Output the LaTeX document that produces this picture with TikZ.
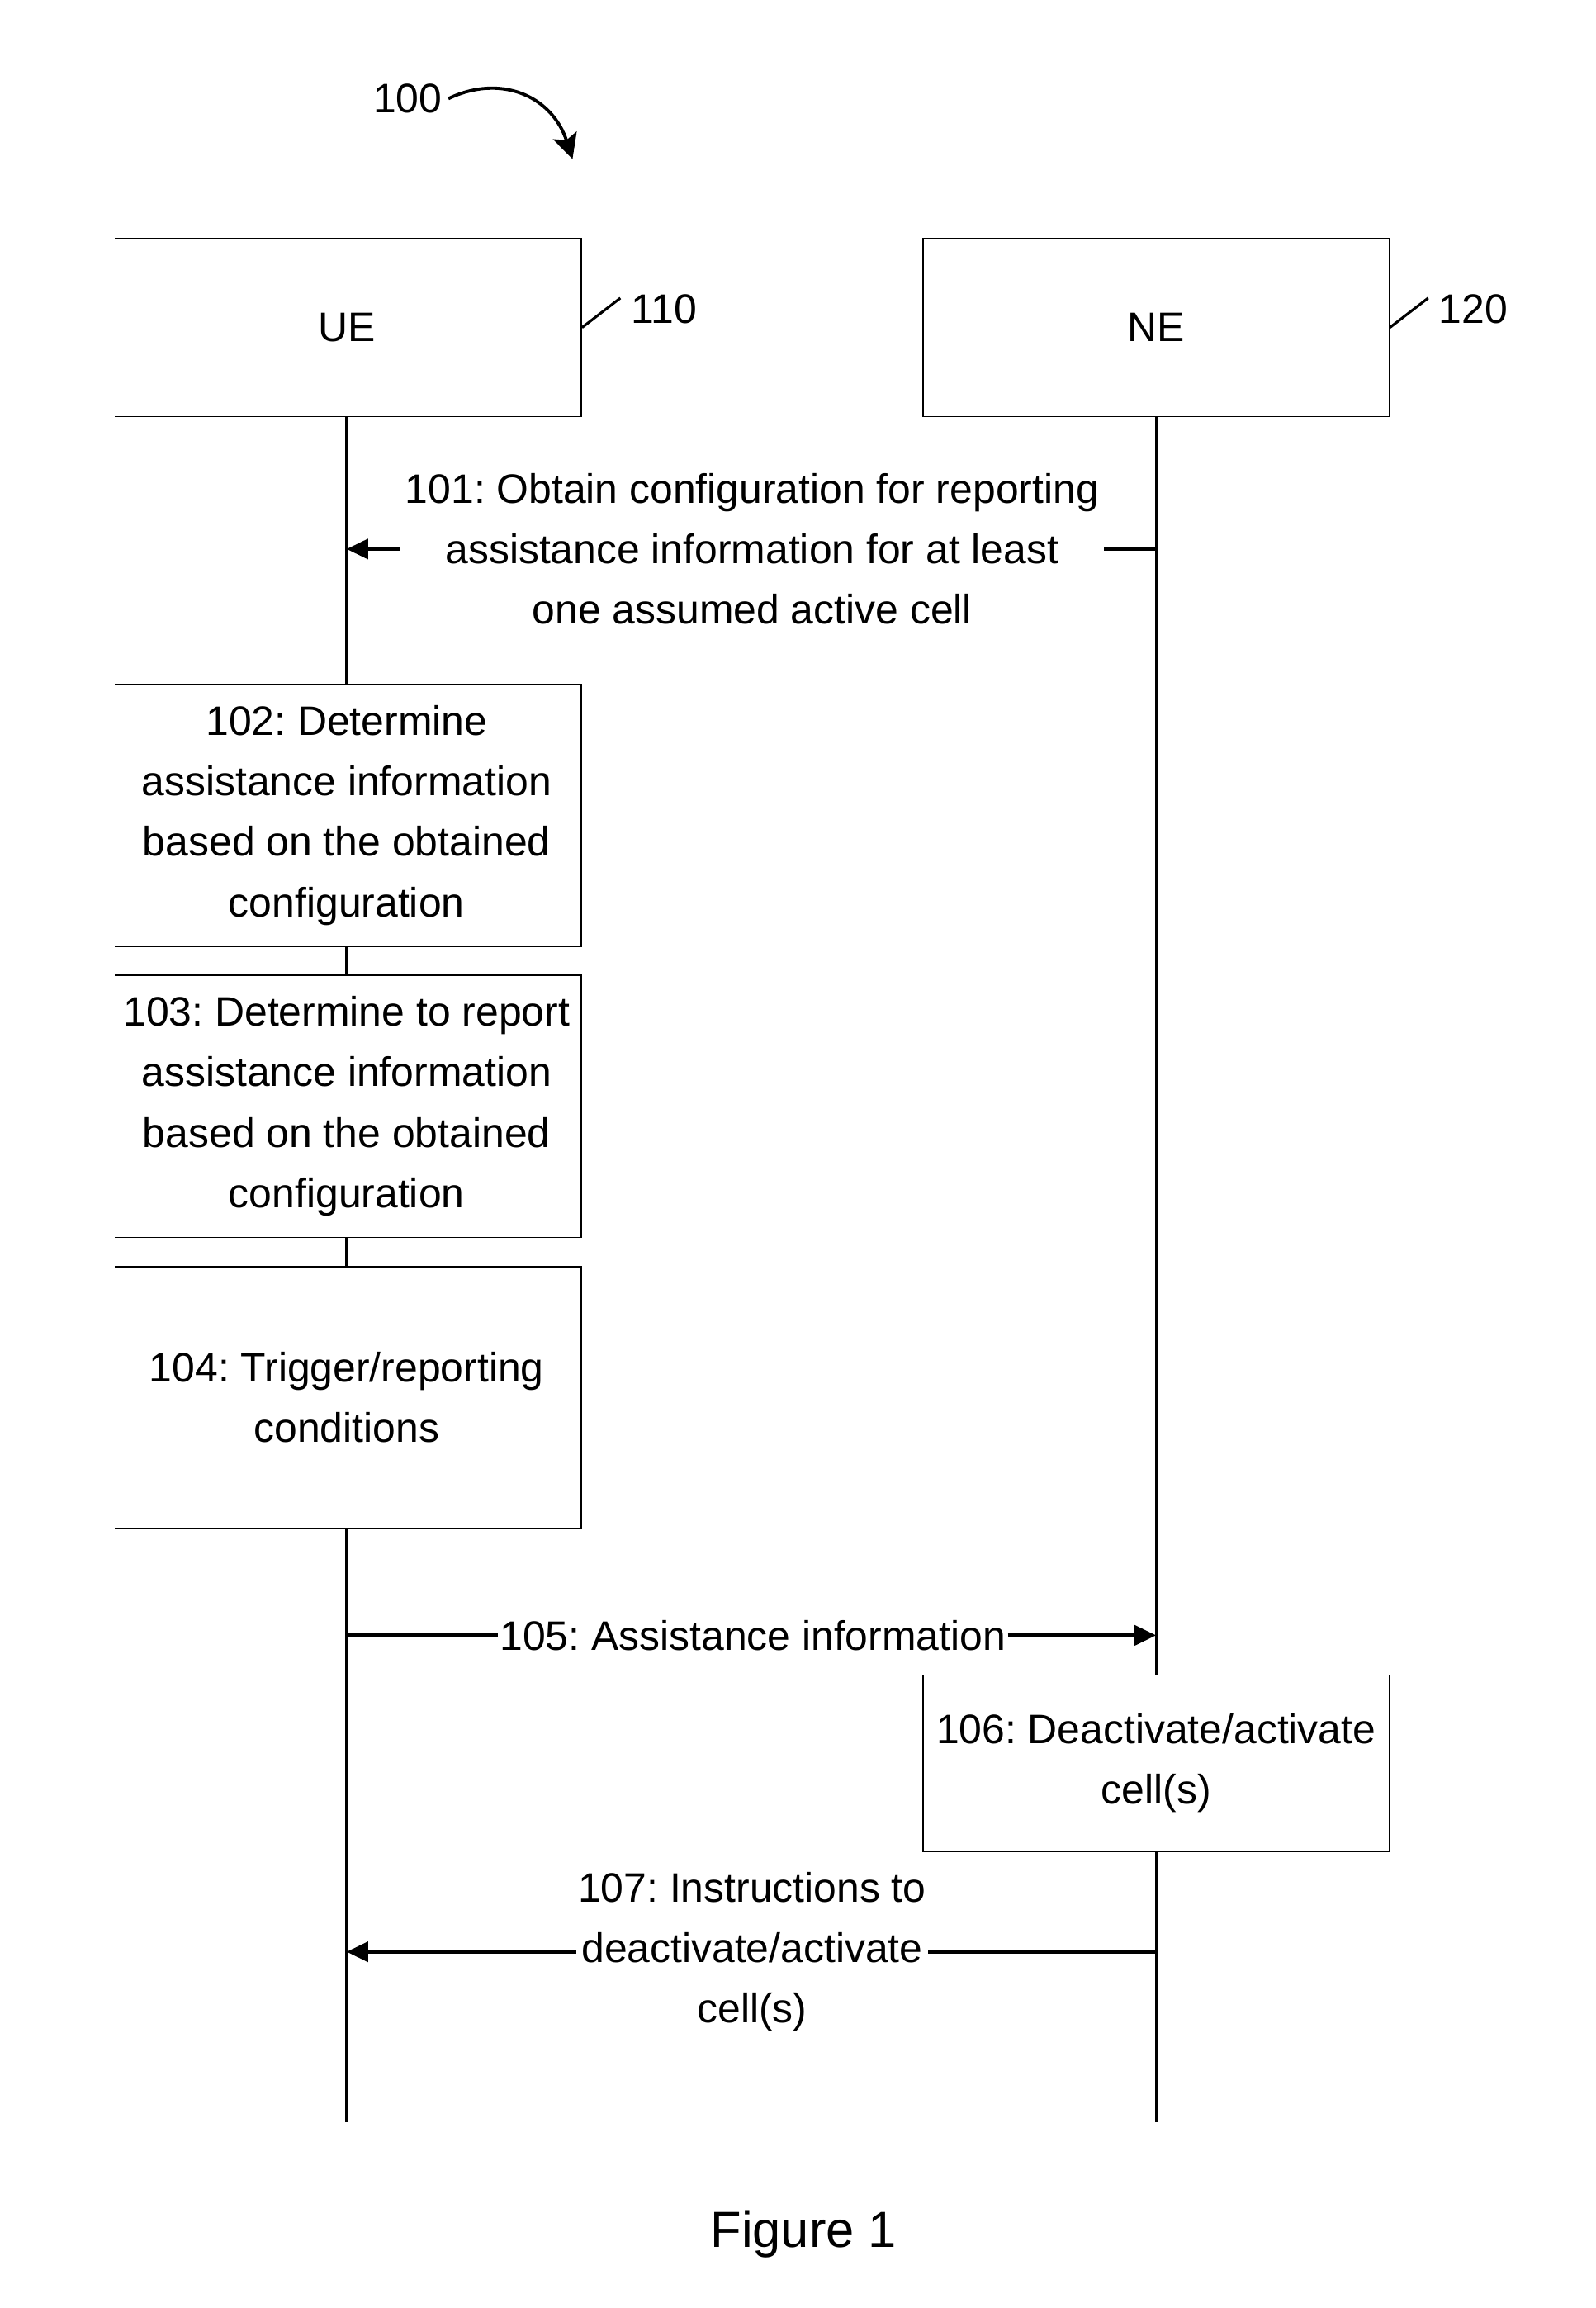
\documentclass[tikz,border=0pt]{standalone}
\usepackage{fontspec}
\setmainfont{Liberation Sans}
\usetikzlibrary{positioning, arrows.meta}
\frenchspacing

\begin{document}
\begin{tikzpicture}[
            x=0.017832cm, y=-0.017832cm, % one unit = one pixel of the drawing sheet
            txt/.style={font=\fontsize{14.2pt}{20.8pt}\selectfont, align=center},
            entity/.style={txt, draw, line width=0.5pt, inner sep=0pt, minimum width=5.65cm, minimum height=2.16cm},
            stepbox/.style={txt, draw, line width=0.5pt, inner sep=0pt, minimum width=5.69cm, minimum height=3.18cm},
            lifeline/.style={line width=0.8pt},
            msg/.style={line width=1.2pt},
            msgarrow/.style={msg, -{Triangle[length=0.26cm, width=0.24cm]}}, % message arrows
            msglabel/.style={txt, inner sep=1.5pt},
            tag/.style={font=\fontsize{14.2pt}{17pt}\selectfont, inner sep=2pt},
            tick/.style={line width=0.9pt}
        ]

        \useasboundingbox (0,0) rectangle (1084,1568);

        % Nodes (UE side is open on the left)
        \begin{scope}
            \clip (78,0) rectangle (1084,1568);
            \node[entity, minimum width=5.69cm] (ue) at (235.5,222.5) {UE};
            \node[stepbox] (s102) at (235.5,554) {102: Determine\\assistance information\\based on the obtained\\configuration};
            \node[stepbox] (s103) at (235.5,751.5) {103: Determine to report\\assistance information\\based on the obtained\\configuration};
            \node[stepbox] (s104) at (235.5,949.5) {104: Trigger/reporting\\conditions};
        \end{scope}
        \node[entity] (ne) at (785.5,222.5) {NE};
        \node[stepbox, minimum width=5.65cm, minimum height=2.14cm] (s106) at (785.5,1198) {106: Deactivate/activate\\cell(s)};

        \coordinate (ueEnd) at (235.5,1442);
        \coordinate (neEnd) at (785.5,1442);

        % Labels
        \node[tag] (tag100) at (277,67) {100};
        \node[tag, right=0.517cm of ue, yshift=0.223cm] (tag110) {110};
        \node[tag, right=0.517cm of ne, yshift=0.223cm] (tag120) {120};
        \node[font=\fontsize{17.5pt}{21pt}\selectfont] (fig) at (546,1518) {Figure 1};

        \draw[line width=1.1pt, -{Stealth[length=0.3cm, width=0.3cm, inset=0.06cm]}] (tag100.east) .. controls (340,50) and (375,65) .. (389,108);
        \draw[tick] (ue.east) -- ++(26,-20);
        \draw[tick] (ne.east) -- ++(26,-20);

        % Lifelines
        \draw[lifeline] (ue.south) -- (s102.north);
        \draw[lifeline] (s102.south) -- (s103.north);
        \draw[lifeline] (s103.south) -- (s104.north);
        \draw[lifeline] (s104.south) -- (ueEnd);
        \draw[lifeline] (ne.south) -- (s106.north);
        \draw[lifeline] (s106.south) -- (neEnd);

        % Messages
        \node[msglabel] (m101) at (511,373) {101: Obtain configuration for reporting\\assistance information for at least\\one assumed active cell};
        \node[msglabel, inner sep=0.5pt] (m105) at (511.5,1111) {105: Assistance information};
        \node[msglabel, inner sep=0.5pt] (m107) at (511,1326) {107: Instructions to\\deactivate/activate\\cell(s)};

        \draw[msg] (ne.south |- m101) -- (m101.east);
        \draw[msgarrow] (m101.west) -- (ue.south |- m101);
        \draw[msg] (ue.south |- m105) -- (m105.west);
        \draw[msgarrow] (m105.east) -- (ne.south |- m105);
        \draw[msg] (ne.south |- m107) -- (m107.east);
        \draw[msgarrow] (m107.west) -- (ue.south |- m107);

\end{tikzpicture}
\end{document}
